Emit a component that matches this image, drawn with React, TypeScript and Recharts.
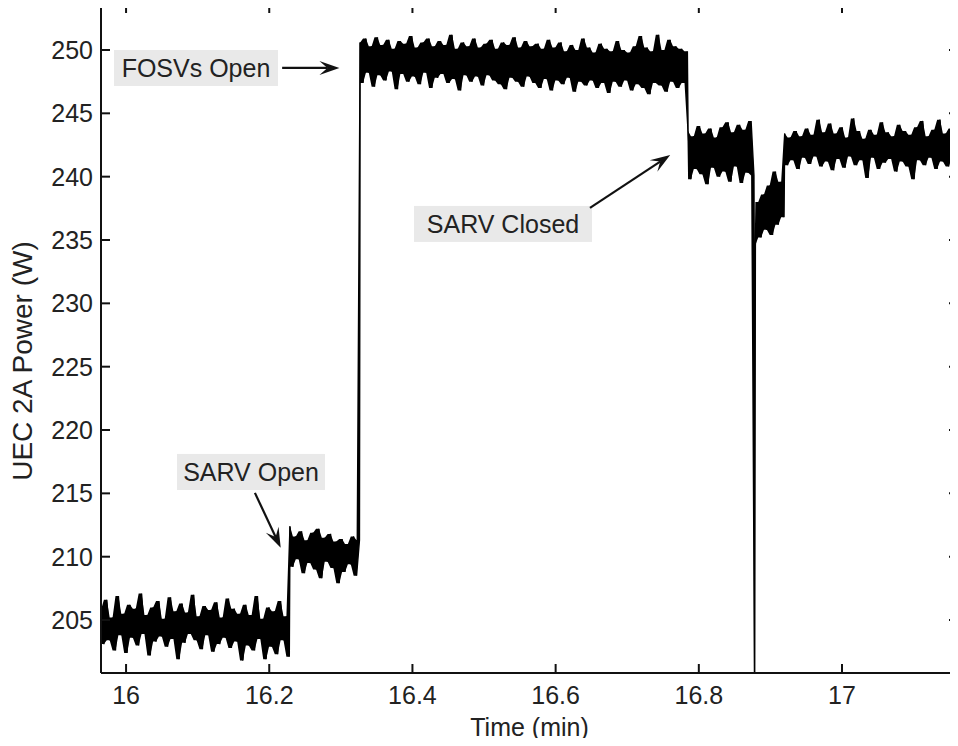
import React from "react";
import { ComposedChart, Area, Line, XAxis, YAxis } from "recharts";

// time span (min) covered by each recorded stretch of the trace
const segmentTimes: [number, number][] = [
  [15.965, 16.228],
  [16.229, 16.326],
  [16.327, 16.784],
  [16.785, 16.877],
  [16.879, 16.919],
  [16.92, 17.165],
];

// UEC 2A power (W)
const baseline = [
  205.8, 203.1, 206.6, 203.4, 205.2, 202.6, 206.9, 203.8, 205.5, 202.4,
  206.2, 203.6, 205.9, 203.0, 207.1, 203.9, 205.4, 202.2, 206.0, 203.3,
  206.5, 203.7, 205.1, 202.9, 206.8, 203.5, 205.7, 201.9, 206.3, 203.2,
  205.6, 203.9, 207.0, 203.4, 205.3, 202.7, 206.1, 203.8, 205.8, 202.5,
  206.4, 203.1, 205.2, 203.6, 206.7, 202.8, 205.9, 203.3, 205.5, 201.8,
  206.2, 203.0, 205.4, 202.6, 206.9, 203.5, 205.1, 201.9, 206.0, 202.9,
  205.7, 202.3, 206.5, 203.4, 205.3, 202.1,
];
const sarvOpen = [
  212.4, 209.2, 211.6, 209.8, 212.0, 208.7, 211.3, 209.5, 211.9, 209.0,
  212.2, 208.3, 211.5, 209.6, 211.8, 209.1, 211.2, 207.9, 211.4, 208.8,
  211.0, 209.4, 211.6, 208.5, 211.3,
];
const fosvsOpen = [
  250.6, 247.4, 250.9, 248.2, 250.3, 247.1, 251.0, 248.0, 250.4, 247.6,
  250.8, 248.3, 250.1, 246.9, 250.7, 248.1, 250.5, 247.5, 251.1, 247.9,
  250.2, 247.3, 250.6, 248.2, 250.9, 247.0, 250.3, 247.8, 250.7, 248.1,
  250.4, 247.4, 251.2, 247.7, 250.1, 246.8, 250.6, 248.0, 250.3, 247.5,
  250.9, 247.9, 250.2, 247.2, 250.5, 248.0, 250.8, 247.6, 250.1, 247.3,
  250.6, 246.9, 250.4, 247.8, 251.0, 247.5, 250.2, 247.1, 250.7, 247.9,
  250.3, 247.4, 250.5, 247.0, 250.1, 247.7, 250.8, 246.8, 250.2, 247.6,
  250.6, 247.3, 249.9, 247.8, 250.4, 246.7, 250.0, 247.5, 250.9, 247.2,
  250.2, 247.6, 249.8, 247.0, 250.5, 247.4, 250.1, 246.6, 249.9, 247.5,
  250.7, 247.1, 250.0, 247.6, 249.8, 246.8, 250.3, 247.3, 251.1, 247.0,
  250.2, 246.5, 249.9, 247.4, 251.2, 247.2, 250.0, 246.7, 250.8, 247.5,
  250.3, 247.0, 250.1, 247.4, 249.9,
];
const sarvClosed = [
  243.6, 239.8, 243.2, 240.6, 244.0, 240.2, 243.4, 239.4, 243.8, 240.7,
  243.1, 240.0, 243.9, 240.4, 244.3, 239.6, 243.5, 240.8, 244.1, 239.5,
  243.7, 240.3, 244.4, 240.1,
];
const dipRecovery = [
  234.6, 238.0, 235.2, 238.6, 235.8, 239.3, 235.4, 240.4, 236.2, 239.6, 236.8,
];
const settled = [
  243.4, 240.9, 243.1, 241.3, 243.6, 240.6, 243.2, 241.5, 243.8, 241.0,
  243.3, 241.6, 244.5, 240.8, 243.5, 241.2, 244.2, 240.5, 243.4, 241.4,
  243.9, 240.7, 243.1, 241.6, 244.6, 240.9, 243.6, 241.3, 243.0, 239.9,
  243.7, 241.5, 243.3, 240.6, 244.3, 241.1, 243.5, 241.4, 243.2, 240.4,
  244.1, 241.2, 243.6, 240.8, 243.3, 239.8, 243.9, 241.3, 244.4, 240.9,
  243.2, 241.5, 243.7, 240.6, 244.5, 241.2, 243.4, 240.8, 243.8, 241.4,
  244.2, 240.7,
];
// momentary dropout between the SARV-closed stretch and the dip
const dropTime = 16.878;
const dropValue = 199;

const xTicks = [16, 16.2, 16.4, 16.6, 16.8, 17];
const yTicks = [205, 210, 215, 220, 225, 230, 235, 240, 245, 250];

const segments = [baseline, sarvOpen, fosvsOpen, sarvClosed, dipRecovery, settled];
const samples: { t: number; w: number }[] = [];
segments.forEach((vals, s) => {
  const [t0, t1] = segmentTimes[s];
  vals.forEach((w, i) => {
    samples.push({ t: t0 + ((t1 - t0) * i) / (vals.length - 1), w });
  });
  if (s === 3) samples.push({ t: dropTime, w: dropValue });
});
// band = span between each sample and the next, so the dense trace reads as solid ink
const data = samples.map((p, i) => {
  const next = samples[i + 1] ? samples[i + 1].w : p.w;
  return { ...p, band: [Math.min(p.w, next), Math.max(p.w, next)] };
});

// annotations: text centre, arrow tail and head in data units
const notes = [
  { text: "FOSVs Open", t: 16.0977, w: 248.58, boxW: 164, tail: [16.218, 248.58], head: [16.298, 248.58] },
  { text: "SARV Open", t: 16.1745, w: 216.69, boxW: 148, tail: [16.18, 215.04], head: [16.216, 210.7] },
  { text: "SARV Closed", t: 16.5265, w: 236.27, boxW: 178, tail: [16.648, 237.53], head: [16.76, 241.71] },
];

const X_DOMAIN: [number, number] = [15.965, 17.162];
const Y_DOMAIN: [number, number] = [200.82, 253.63];
const PLOT = { left: 101, top: 4, width: 857, height: 669 };
const FONT = "'Liberation Sans', Arial, Helvetica, sans-serif";
const INK = "#111";

const px = (t: number) => PLOT.left + ((t - X_DOMAIN[0]) / (X_DOMAIN[1] - X_DOMAIN[0])) * PLOT.width;
const py = (w: number) => PLOT.top + ((Y_DOMAIN[1] - w) / (Y_DOMAIN[1] - Y_DOMAIN[0])) * PLOT.height;

function Arrow({ tail, head }: { tail: number[]; head: number[] }) {
  const x1 = px(tail[0]), y1 = py(tail[1]);
  const x2 = px(head[0]), y2 = py(head[1]);
  const len = Math.hypot(x2 - x1, y2 - y1);
  const ux = (x2 - x1) / len, uy = (y2 - y1) / len;
  const nx = -uy, ny = ux;
  const L = 20, H = 7;
  const pts = [
    [x2, y2],
    [x2 - L * ux + H * nx, y2 - L * uy + H * ny],
    [x2 - 0.6 * L * ux, y2 - 0.6 * L * uy],
    [x2 - L * ux - H * nx, y2 - L * uy - H * ny],
  ];
  return (
    <g>
      <line x1={x1} y1={y1} x2={x2 - 0.6 * L * ux} y2={y2 - 0.6 * L * uy} stroke={INK} strokeWidth={2.2} />
      <polygon points={pts.map((p) => p.join(",")).join(" ")} fill={INK} />
    </g>
  );
}

export default function App() {
  const tickStyle = { fill: "#222", fontSize: 25, fontFamily: FONT };
  const frame = { stroke: INK, strokeWidth: 2 };
  const blank = () => "";
  return (
    <div style={{ position: "relative", width: 958, height: 746, margin: -8, overflow: "hidden", background: "#fff" }}>
      <ComposedChart width={959} height={746} data={data} margin={{ top: 3, right: 0, bottom: 0, left: 0 }}>
        <XAxis
          xAxisId="b"
          dataKey="t"
          type="number"
          domain={X_DOMAIN}
          ticks={xTicks}
          interval={0}
          allowDataOverflow
          height={73}
          tickSize={-9}
          tickMargin={22}
          tick={tickStyle}
          axisLine={frame}
          tickLine={frame}
          label={{ value: "Time (min)", position: "insideBottom", offset: 10, fill: "#222", fontSize: 25, fontFamily: FONT }}
        />
        <XAxis
          xAxisId="top"
          orientation="top"
          dataKey="t"
          type="number"
          domain={X_DOMAIN}
          ticks={xTicks}
          interval={0}
          allowDataOverflow
          height={1}
          tickSize={-9}
          tickFormatter={blank}
          axisLine={frame}
          tickLine={frame}
        />
        <YAxis
          yAxisId="l"
          type="number"
          domain={Y_DOMAIN}
          ticks={yTicks}
          interval={0}
          allowDataOverflow
          width={101}
          tickSize={-9}
          tickMargin={17}
          tick={tickStyle}
          axisLine={frame}
          tickLine={frame}
        />
        <YAxis
          yAxisId="r"
          orientation="right"
          type="number"
          domain={Y_DOMAIN}
          ticks={yTicks}
          interval={0}
          allowDataOverflow
          width={1}
          tickSize={-9}
          tickFormatter={blank}
          axisLine={false}
          tickLine={frame}
        />
        <Area
          xAxisId="b"
          yAxisId="l"
          dataKey="band"
          type="linear"
          stroke="none"
          fill="#000"
          fillOpacity={1}
          dot={false}
          activeDot={false}
          isAnimationActive={false}
        />
        <Line
          xAxisId="b"
          yAxisId="l"
          dataKey="w"
          type="linear"
          stroke="#000"
          strokeWidth={1.4}
          dot={false}
          isAnimationActive={false}
        />
      </ComposedChart>
      <svg width={958} height={746} style={{ position: "absolute", left: 0, top: 0, pointerEvents: "none" }}>
        <text
          x={22}
          y={361}
          transform="rotate(-90 22 361)"
          textAnchor="middle"
          dominantBaseline="central"
          fontSize={28}
          fontFamily={FONT}
          fill="#222"
        >
          UEC 2A Power (W)
        </text>
        {notes.map((n) => (
          <g key={n.text}>
            <rect x={px(n.t) - n.boxW / 2} y={py(n.w) - 18} width={n.boxW} height={36} fill="#e9e9e9" />
            <text
              x={px(n.t)}
              y={py(n.w)}
              textAnchor="middle"
              dominantBaseline="central"
              fontSize={25}
              fontFamily={FONT}
              fill="#222"
            >
              {n.text}
            </text>
            <Arrow tail={n.tail} head={n.head} />
          </g>
        ))}
      </svg>
    </div>
  );
}
